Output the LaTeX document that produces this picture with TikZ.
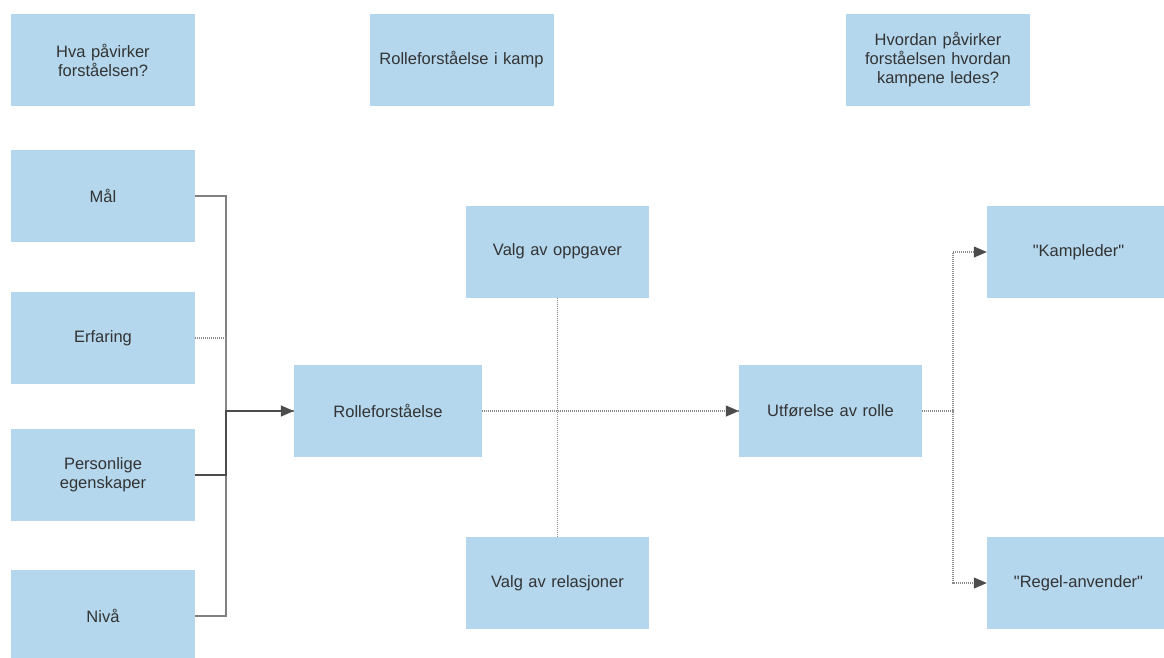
\documentclass[tikz,border=0pt]{standalone}
\usepackage{fontspec}
\setmainfont{Liberation Sans}
\usetikzlibrary{arrows.meta}
\definecolor{boxblue}{RGB}{180,215,237}
\definecolor{txt}{RGB}{51,51,51}
\begin{document}
\begin{tikzpicture}[x=1pt,y=-1pt,
  box/.style={fill=boxblue,draw=none,minimum width=184pt,minimum height=92pt,inner sep=2pt,
    align=center,text width=174pt,font=\fontsize{16.5}{19}\selectfont,text=txt},
  solidc/.style={draw=black!50,line width=1.2pt},
  darkc/.style={draw=black!70,line width=1.4pt},
  dotc/.style={draw=black!45,line width=1.2pt,dash pattern=on 1pt off 1pt},
  tip/.style={-{Triangle[length=13pt,width=11pt,color=black!70]}}]
\useasboundingbox (0,0) rectangle (1164,657);
\node[box] (q1) at (103,60) {Hva påvirker\\forståelsen?};
\node[box] (q2) at (461.5,60) {Rolleforståelse i kamp};
\node[box] (q3) at (938,60) {Hvordan påvirker\\forståelsen hvordan\\kampene ledes?};
\node[box] (mal) at (103,196) {Mål};
\node[box] (erf) at (103,338) {Erfaring};
\node[box] (pers) at (103,475) {Personlige\\egenskaper};
\node[box] (niva) at (103,616) {Nivå};
\node[box,minimum width=188pt] (rolle) at (388,411) {Rolleforståelse};
\node[box,minimum width=183pt] (opp) at (557.5,251.5) {Valg av oppgaver};
\node[box,minimum width=183pt] (rel) at (557.5,583) {Valg av relasjoner};
\node[box,minimum width=183pt] (utf) at (830.5,411) {Utførelse av rolle};
\node[box,minimum width=183pt] (kamp) at (1078.5,252) {\textquotedbl Kampleder\textquotedbl};
\node[box,minimum width=183pt] (regel) at (1078.5,583) {\textquotedbl Regel-anvender\textquotedbl};
% left connectors
\coordinate (j) at (226,411);
\draw[solidc] (mal.east) -| (j) -- (rolle.west);
\draw[solidc] (niva.east) -| (j) -- (rolle.west);
\draw[dotc] (erf.east) -| (j);
\draw[darkc,tip] (pers.east) -| (j) -- (rolle.west);
% middle
\draw[dotc] (opp.south) |- (utf.west);
\draw[dotc] (rel.north) |- (utf.west);
\draw[dotc,tip] (rolle.east) -- (utf.west);
% right fork
\coordinate (k) at (953,411);
\draw[dotc,tip] (utf.east) -- (k) |- (kamp.west);
\draw[dotc,tip] (utf.east) -- (k) |- (regel.west);
\end{tikzpicture}
\end{document}
